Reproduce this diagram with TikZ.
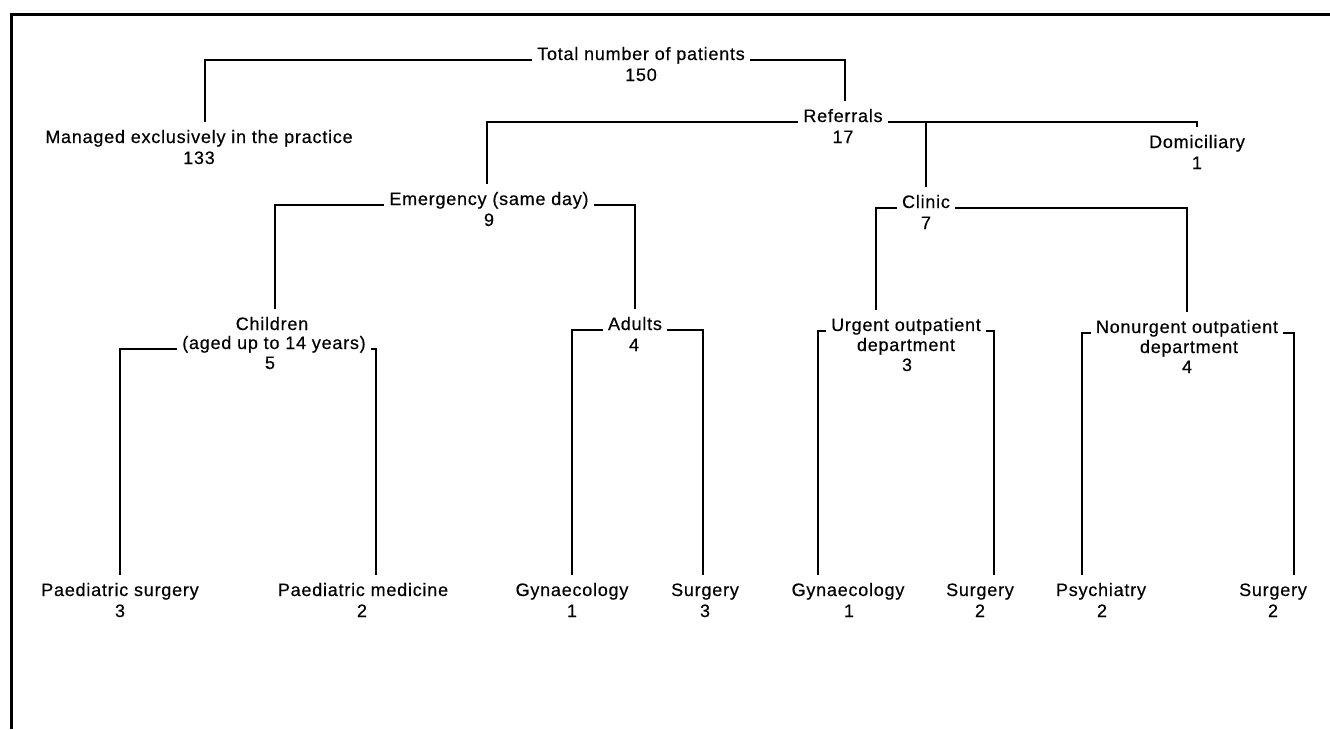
\documentclass[tikz,border=0pt]{standalone}
\usepackage{fontspec}
\setmainfont[LetterSpace=4.3,FakeBold=0.4]{Liberation Sans}
\begin{document}
\begin{tikzpicture}[x=1pt,y=-1pt,
  lbl/.style={anchor=base, inner xsep=5pt, inner ysep=8pt, font=\fontsize{18}{21}\selectfont},
  conn/.style={line width=1.8pt},
  frameline/.style={line width=3pt}]
\useasboundingbox (0,0) rectangle (1330,729);
\draw[frameline] (1330,14) -- (11,14) -- (11,729);

% level 0
\node[lbl] (root)  at (641,60) {Total number of patients};
\node[lbl] (rootn) at (641,81) {150};
% level 1
\node[lbl] (mng)  at (199,143) {Managed exclusively in the practice};
\node[lbl] (mngn) at (199,164) {133};
\node[lbl] (ref)  at (843,122) {Referrals};
\node[lbl] (refn) at (843,143) {17};
% level 2
\node[lbl] (eme)  at (489,205) {Emergency (same day)};
\node[lbl] (emen) at (489,226) {9};
\node[lbl] (cli)  at (926,208) {Clinic};
\node[lbl] (clin) at (926,229) {7};
\node[lbl] (dom)  at (1197,148) {Domiciliary};
\node[lbl] (domn) at (1197,169) {1};
% level 3
\node[lbl] (chi)  at (272,330) {Children};
\node[lbl] (chi2) at (274,349) {(aged up to 14 years)};
\node[lbl] (chi3) at (270,369) {5};
\node[lbl] (adu)  at (635,330) {Adults};
\node[lbl] (adun) at (634,351) {4};
\node[lbl] (urg)  at (906,331) {Urgent outpatient};
\node[lbl] (urg2) at (906,351) {department};
\node[lbl] (urg3) at (907,371) {3};
\node[lbl] (non)  at (1187,333) {Nonurgent outpatient};
\node[lbl] (non2) at (1189,353) {department};
\node[lbl] (non3) at (1187,373) {4};
% level 4
\node[lbl] (ps)   at (120,596) {Paediatric surgery};
\node[lbl] (psn)  at (120,617) {3};
\node[lbl] (pm)   at (363,596) {Paediatric medicine};
\node[lbl] (pmn)  at (362,617) {2};
\node[lbl] (gy1)  at (572,596) {Gynaecology};
\node[lbl] (gy1n) at (572,617) {1};
\node[lbl] (su1)  at (705,596) {Surgery};
\node[lbl] (su1n) at (705,617) {3};
\node[lbl] (gy2)  at (848,596) {Gynaecology};
\node[lbl] (gy2n) at (849,617) {1};
\node[lbl] (su2)  at (980,596) {Surgery};
\node[lbl] (su2n) at (980,617) {2};
\node[lbl] (psy)  at (1101,596) {Psychiatry};
\node[lbl] (psyn) at (1102,617) {2};
\node[lbl] (su3)  at (1273,596) {Surgery};
\node[lbl] (su3n) at (1273,617) {2};

% connectors
\draw[conn] (root.base west) -| ([xshift=6pt]mng.north);
\draw[conn] (root.base east) -| ([xshift=2pt]ref.north);
\draw[conn] (ref.base west) -| ([xshift=-2pt]eme.north);
\draw[conn] (ref.base east) -| (dom.north);
\draw[conn] (cli.north) -- (cli.north |- ref.base);
\draw[conn] (eme.base west) -| ([xshift=3pt]chi.north);
\draw[conn] (eme.base east) -| (adu.north);
\draw[conn] (cli.base west) -| ([xshift=-30pt]urg.north);
\draw[conn] (cli.base east) -| (non.north);
\draw[conn] (chi2.base west) -| (ps.north);
\draw[conn] (chi2.base east) -| ([xshift=13pt]pm.north);
\draw[conn] (adu.base west) -| (gy1.north);
\draw[conn] (adu.base east) -| ([xshift=-2pt]su1.north);
\draw[conn] (urg.base west) -| ([xshift=-30pt]gy2.north);
\draw[conn] (urg.base east) -| ([xshift=14pt]su2.north);
\draw[conn] (non.base west) -| ([xshift=-19pt]psy.north);
\draw[conn] (non.base east) -| ([xshift=21pt]su3.north);
\end{tikzpicture}
\end{document}
